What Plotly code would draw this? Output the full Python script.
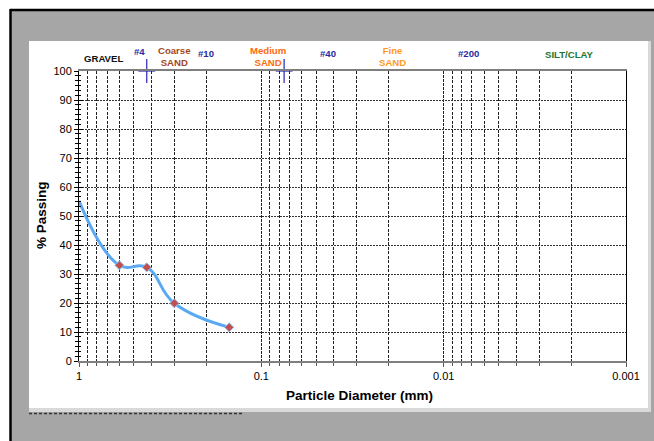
import plotly.graph_objects as go

# ---------------- data ----------------
diameter_mm = [1.0, 0.6, 0.425, 0.3, 0.15]
percent_passing = [55.2, 33.0, 32.3, 19.9, 11.6]
marker_shown = [False, True, True, True, True]

sieve_mark_mm = [0.425, 0.075]
sieve_mark_pct = [100, 100]

x_tick_vals = [1, 0.1, 0.01, 0.001]
x_tick_text = ["1", "0.1", "0.01", "0.001"]
y_tick_vals = [0, 10, 20, 30, 40, 50, 60, 70, 80, 90, 100]

zone_texts = ["GRAVEL", "#4", "Coarse<br>SAND", "#10", "Medium<br>SAND",
              "#40", "Fine<br>SAND", "#200", "SILT/CLAY"]

# ---------------- layout helpers ----------------
W, H = 654, 441
L, R, T, B = 79, 28, 71, 80
PW, PH = W - L - R, H - T - B


def px(x):
    return (x - L) / PW


def py(y):
    return (H - B - y) / PH


FONT = "Liberation Sans, Arial, sans-serif"

minor_x = [k * 10 ** e for e in (0, -1, -2, -3) for k in range(2, 10)
           if 0.001 < k * 10 ** e < 1]

fig = go.Figure()

fig.add_trace(go.Scatter(
    x=diameter_mm, y=percent_passing, mode="lines",
    line=dict(color="#5aa9f2", width=3, shape="spline", smoothing=1.25),
    hoverinfo="skip", showlegend=False))

fig.add_trace(go.Scatter(
    x=[d for d, s in zip(diameter_mm, marker_shown) if s],
    y=[p for p, s in zip(percent_passing, marker_shown) if s],
    mode="markers",
    marker=dict(symbol="diamond", size=7, color="#c0504d",
                line=dict(color="#8fc4f5", width=1)),
    showlegend=False))

# blue sieve marks on the top border
fig.add_trace(go.Scatter(
    x=sieve_mark_mm, y=sieve_mark_pct, mode="markers", cliponaxis=False,
    marker=dict(symbol="line-ns", size=17, line=dict(color="#2626b0", width=1.2)),
    showlegend=False, hoverinfo="skip"))
fig.add_trace(go.Scatter(
    x=sieve_mark_mm, y=sieve_mark_pct, mode="markers", cliponaxis=False,
    marker=dict(symbol="line-ew", size=12, line=dict(color="#2626b0", width=1.2)),
    showlegend=False, hoverinfo="skip"))

# invisible trace for the overlaid axis (inner tick halves)
fig.add_trace(go.Scatter(
    x=diameter_mm, y=percent_passing, yaxis="y2", mode="lines",
    line=dict(width=0), opacity=0, showlegend=False, hoverinfo="skip"))

# ---------------- frame shapes ----------------
shapes = [
    dict(type="rect", xref="paper", yref="paper", x0=px(10), x1=px(W + 5),
         y0=py(10), y1=py(H + 5), fillcolor="#a6a6a6", line=dict(width=0),
         layer="below"),
    dict(type="rect", xref="paper", yref="paper", x0=px(29), x1=px(651),
         y0=py(41), y1=py(412), fillcolor="#d9d9d9", line=dict(width=0),
         layer="below"),
    dict(type="rect", xref="paper", yref="paper", x0=px(29), x1=px(648),
         y0=py(41), y1=py(408), fillcolor="white", line=dict(width=0),
         layer="below"),
    dict(type="line", xref="paper", yref="paper", x0=px(29), x1=px(243),
         y0=py(413.5), y1=py(413.5), line=dict(color="#333333", width=1.5, dash="3px,2px"),
         layer="below"),
    dict(type="line", xref="paper", yref="paper", x0=px(10), x1=px(W + 5),
         y0=py(10), y1=py(10), line=dict(color="black", width=2.5)),
    dict(type="line", xref="paper", yref="paper", x0=px(10.5), x1=px(10.5),
         y0=py(9), y1=py(H + 5), line=dict(color="black", width=2.5)),
]

# ---------------- annotations ----------------
zone_pos = [(103, 59), (139, 51), (174, 57), (206, 53), (268, 57),
            (328, 53), (392, 57), (468, 53), (569, 54)]
zone_col = ["#111111", "#2a2aa0", "#a5481c", "#2a2aa0", "#ff6a0e",
            "#2a2aa0", "#ff9c1a", "#2a2aa0", "#1d7530"]

annotations = []
for t, (x, y), c in zip(zone_texts, zone_pos, zone_col):
    annotations.append(dict(
        text="<b>%s</b>" % t, x=px(x), y=py(y), xref="paper", yref="paper",
        xanchor="center", yanchor="middle", showarrow=False,
        font=dict(family=FONT, size=9.6, color=c), align="center"))

annotations.append(dict(
    text="<b>% Passing</b>", x=px(41), y=py(215), xref="paper", yref="paper",
    xanchor="center", yanchor="middle", showarrow=False, textangle=-90,
    font=dict(family=FONT, size=13.5, color="black")))
annotations.append(dict(
    text="<b>Particle Diameter (mm)</b>", x=px(359), y=py(395), xref="paper",
    yref="paper", xanchor="center", yanchor="middle", showarrow=False,
    font=dict(family=FONT, size=13.5, color="black")))

fig.update_layout(
    width=W, height=H,
    margin=dict(l=L, r=R, t=T, b=B, pad=0),
    paper_bgcolor="white", plot_bgcolor="white",
    shapes=shapes, annotations=annotations,
    showlegend=False,
    xaxis=dict(
        type="log", range=[0, -3],
        tickvals=x_tick_vals, ticktext=x_tick_text,
        ticks="outside", ticklen=4, tickcolor="#555555",
        tickfont=dict(family=FONT, size=11, color="black"),
        showgrid=True, gridcolor="#222222", gridwidth=1, griddash="3px,1px",
        showline=True, linecolor="#7f7f7f", linewidth=2, mirror=True,
        zeroline=False,
        minor=dict(tickvals=minor_x, ticks="outside", ticklen=3,
                   tickcolor="#555555", showgrid=True, gridcolor="#222222",
                   gridwidth=1, griddash="3px,1.5px"),
    ),
    yaxis=dict(
        range=[0, 100], tickvals=y_tick_vals,
        ticks="outside", ticklen=4, tickcolor="black",
        tickfont=dict(family=FONT, size=11, color="black"),
        showgrid=True, gridcolor="#333333", gridwidth=1, griddash="2px,1px",
        showline=True, linecolor="black", linewidth=1, mirror=True,
        zeroline=False,
        minor=dict(dtick=10 / 6, tick0=0, ticks="outside", ticklen=3,
                   tickcolor="black", showgrid=False),
    ),
    yaxis2=dict(
        range=[0, 100], overlaying="y", side="left", tickvals=y_tick_vals,
        ticks="inside", ticklen=4, tickcolor="black", showticklabels=False,
        showgrid=False, showline=False, zeroline=False,
        minor=dict(dtick=10 / 6, tick0=0, ticks="inside", ticklen=2,
                   tickcolor="black", showgrid=False),
    ),
)

fig.write_html(
    "out.html",
    config={"displayModeBar": False},
    post_script="document.body.style.margin='0';document.body.style.overflow='hidden';")
